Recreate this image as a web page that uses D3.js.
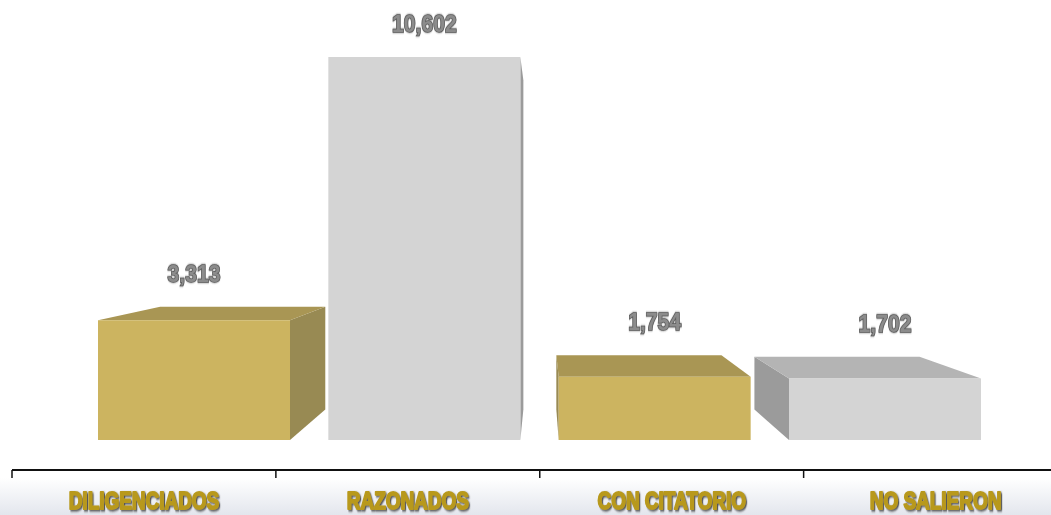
<!DOCTYPE html>
<html><head><meta charset="utf-8">
<script src="https://cdn.jsdelivr.net/npm/d3@7"></script>
<style>html,body{margin:0;padding:0;background:#fff;overflow:hidden}</style>
</head><body>
<svg id="chart" width="1051" height="515"></svg>
<script>
const categories = ["DILIGENCIADOS", "RAZONADOS", "CON CITATORIO", "NO SALIERON"];
const values = [3313, 10602, 1754, 1702];
const valueLabels = ["3,313", "10,602", "1,754", "1,702"];
const barTheme = ["gold", "grey", "gold", "grey"];

const palette = {
  gold: {front: "#ccb460", top: "#a99654", side: "#988a53"},
  grey: {front: "#d4d4d4", top: "#b4b4b4", side: "#9b9b9b"}
};

const W = 1051, H = 515;
const svg = d3.select("#chart");
const defs = svg.append("defs");

const bg = defs.append("linearGradient").attr("id","band").attr("x1",0).attr("y1",0).attr("x2",0).attr("y2",1);
bg.append("stop").attr("offset","0%").attr("stop-color","#ffffff");
bg.append("stop").attr("offset","100%").attr("stop-color","#e3e6ed");

const sh = defs.append("filter").attr("id","catShadow").attr("x","-10%").attr("y","-30%").attr("width","130%").attr("height","170%");
sh.append("feDropShadow").attr("dx",1.5).attr("dy",1.5).attr("stdDeviation",1).attr("flood-color","#3a3a3a").attr("flood-opacity",0.85);

const vs = defs.append("filter").attr("id","valShadow").attr("x","-10%").attr("y","-30%").attr("width","130%").attr("height","170%");
vs.append("feDropShadow").attr("dx",0).attr("dy",0).attr("stdDeviation",0.8).attr("flood-color","#555").attr("flood-opacity",0.8);

svg.append("rect").attr("x",0).attr("y",478).attr("width",W).attr("height",H-478).attr("fill","url(#band)");

const y = d3.scaleLinear().domain([0, d3.max(values)]).range([440, 57]);
const xBar = d3.scaleBand().domain(categories).range([98, 981]).paddingInner(0.1664).paddingOuter(0);
const xAxis = d3.scaleBand().domain(categories).range([12, 1067.5]).padding(0);

const vp = {x: 542, y: 223}, depth = 0.86;
const back = p => [vp.x + (p[0]-vp.x)*depth, vp.y + (p[1]-vp.y)*depth];

const bars = svg.append("g");
categories.forEach((c, i) => {
  const x0 = xBar(c), x1 = x0 + xBar.bandwidth();
  const yt = y(values[i]), yb = y(0);
  const col = palette[barTheme[i]];
  const fTL=[x0,yt], fTR=[x1,yt], fBL=[x0,yb], fBR=[x1,yb];
  const bTL=back(fTL), bTR=back(fTR), bBL=back(fBL), bBR=back(fBR);
  const g = bars.append("g");
  const poly = (pts, fill) => g.append("polygon").attr("points", pts.map(p=>p.join(",")).join(" ")).attr("fill", fill);
  if (x0 > vp.x) poly([fTL,bTL,bBL,fBL], col.side);
  if (x1 < vp.x) poly([fTR,bTR,bBR,fBR], col.side);
  if (yt > vp.y) poly([fTL,fTR,bTR,bTL], col.top);
  poly([fTL,fTR,fBR,fBL], col.front);

  const labelY = Math.min(yt, bTL[1]) - 33;
  const cx = x0 + xBar.bandwidth()/2;
  svg.append("text")
    .attr("transform", `translate(${cx},${labelY + 8}) scale(0.92,1)`)
    .attr("text-anchor","middle")
    .attr("font-family","Liberation Sans, Arial, sans-serif")
    .attr("font-weight","bold").attr("font-size",23)
    .attr("fill","#8c8c8c").attr("stroke","#5e5e5e").attr("stroke-width",1.5)
    .attr("paint-order","stroke")
    .attr("filter","url(#valShadow)")
    .text(valueLabels[i]);
});

const axisG = svg.append("g");
axisG.append("line").attr("x1",12).attr("x2",W).attr("y1",470).attr("y2",470).attr("stroke","#111").attr("stroke-width",2);
categories.forEach(c => {
  axisG.append("line").attr("x1",xAxis(c)).attr("x2",xAxis(c)).attr("y1",470).attr("y2",478).attr("stroke","#111").attr("stroke-width",1.5);
});

categories.forEach(c => {
  svg.append("text")
    .attr("transform", `translate(${xAxis(c)+xAxis.bandwidth()/2},509) scale(0.79,1)`)
    .attr("text-anchor","middle")
    .attr("font-family","Liberation Sans, Arial, sans-serif")
    .attr("font-weight","bold").attr("font-size",24)
    .attr("fill","#b8991f").attr("stroke","#b8991f").attr("stroke-width",1.8)
    .attr("stroke-linejoin","round")
    .attr("filter","url(#catShadow)")
    .text(c);
});
</script>
</body></html>
